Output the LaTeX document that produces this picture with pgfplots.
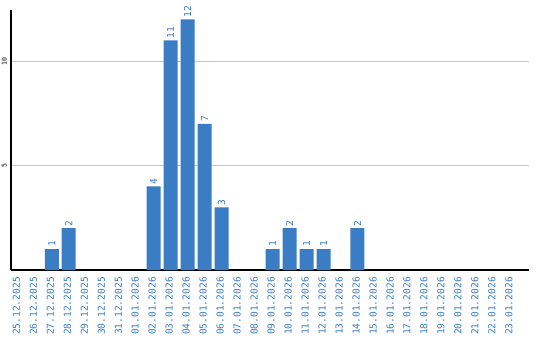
\documentclass[border=0pt]{standalone}
\usepackage{fontspec}
\setmainfont{Liberation Sans}
\newfontfamily\monofont{DejaVu Sans Mono}
\usepackage{pgfplots}
\pgfplotsset{compat=1.18}
\definecolor{barblue}{RGB}{58,125,196}
\begin{document}
\begin{tikzpicture}
\path[use as bounding box] (-11bp,-70bp) rectangle (529bp,270bp);
\begin{axis}[
  at={(0,0)}, anchor=south west,
  scale only axis,
  width=518bp, height=260bp,
  xmin=-0.4, xmax=30.1,
  ymin=0, ymax=12.45,
  axis lines=left,
  axis line style={-, line width=1.2pt, black},
  xtick={0,...,29},
  xticklabels={25.12.2025,26.12.2025,27.12.2025,28.12.2025,29.12.2025,30.12.2025,31.12.2025,01.01.2026,02.01.2026,03.01.2026,04.01.2026,05.01.2026,06.01.2026,07.01.2026,08.01.2026,09.01.2026,10.01.2026,11.01.2026,12.01.2026,13.01.2026,14.01.2026,15.01.2026,16.01.2026,17.01.2026,18.01.2026,19.01.2026,20.01.2026,21.01.2026,22.01.2026,23.01.2026},
  xticklabel style={rotate=90, anchor=east, font=\monofont\fontsize{9.6bp}{10bp}\selectfont, text=barblue, inner sep=0pt, xshift=-7bp},
  typeset ticklabels with strut,
  ytick={5,10},
  yticklabel style={rotate=90, anchor=south, font=\monofont\fontsize{6.5bp}{7bp}\selectfont, text=black, inner sep=0pt, yshift=2bp},
  /pgf/number format/assume math mode=true,
  major tick length=0pt,
  ymajorgrids,
  grid style={draw=black!22, line width=0.8pt},
  clip=false,
]
\addplot[ybar, bar width=14bp, fill=barblue, draw=none,
  nodes near coords,
  every node near coord/.append style={rotate=90, anchor=west, font=\monofont\fontsize{9.6bp}{10bp}\selectfont, text=barblue, inner sep=0pt, xshift=2bp}]
  coordinates {(2,1) (3,2) (8,4) (9,11) (10,12) (11,7) (12,3) (15,1) (16,2) (17,1) (18,1) (20,2)};
\end{axis}
\end{tikzpicture}
\end{document}
